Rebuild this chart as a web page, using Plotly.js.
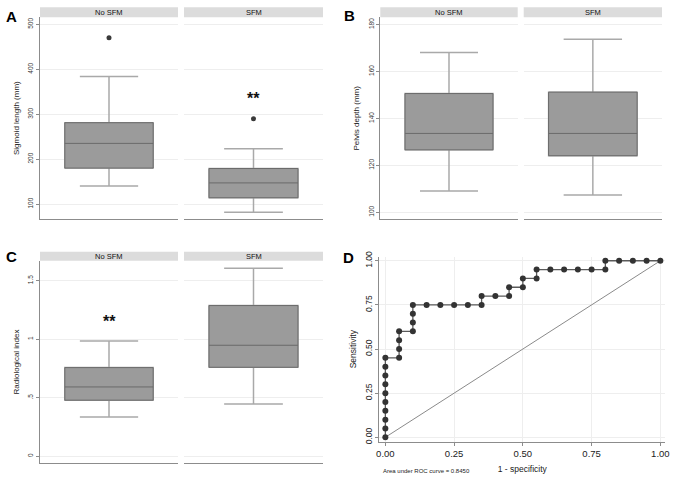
<!DOCTYPE html>
<html>
<head>
<meta charset="utf-8">
<script src="https://cdn.plot.ly/plotly-3.0.1.min.js"></script>
<style>html,body{margin:0;padding:0;background:#fff;}#chart{width:676px;height:481px;}</style>
</head>
<body>
<div id="chart"></div>
<script>
// ---------- data ----------
const groups = ['No SFM', 'SFM'];

// Panel A: Sigmoid length (mm)
const sigLower = [140, 82];
const sigQ1    = [180, 114];
const sigMed   = [235, 147];
const sigQ3    = [281, 179];
const sigUpper = [384, 223];
const sigOutliers = [[470], [290]];

// Panel B: Pelvis depth (mm)
const pelLower = [109.1, 107.4];
const pelQ1    = [126.6, 124.1];
const pelMed   = [133.6, 133.6];
const pelQ3    = [150.6, 151.2];
const pelUpper = [168.1, 173.7];

// Panel C: Radiological index
const radLower = [0.336, 0.447];
const radQ1    = [0.479, 0.760];
const radMed   = [0.592, 0.948];
const radQ3    = [0.757, 1.287];
const radUpper = [0.985, 1.606];

// Panel D: ROC curve
const rocFpr = [0,0,0,0,0,0,0,0,0,0,
  0.05,0.05,0.05,0.05,0.10,0.10,0.10,0.10,0.15,0.20,0.25,0.30,0.35,0.35,0.40,0.45,0.45,0.50,0.50,0.55,0.55,
  0.60,0.65,0.70,0.75,0.80,0.80,0.85,0.90,0.95,1.00];
const rocTpr = [0,0.05,0.10,0.15,0.20,0.25,0.30,0.35,0.40,0.45,
  0.45,0.50,0.55,0.60,0.60,0.65,0.70,0.75,0.75,0.75,0.75,0.75,0.75,0.80,0.80,0.80,0.85,0.85,0.90,0.90,0.95,
  0.95,0.95,0.95,0.95,0.95,1.00,1.00,1.00,1.00,1.00];
const diagX = [0, 1];
const diagY = [0, 1];
const aucText = 'Area under ROC curve = 0.8450';

// ---------- layout helpers ----------
const W = 676, H = 481;
const fx = p => p / W;
const fy = p => 1 - p / H;

const FONT = 'Liberation Sans, Arial, sans-serif';
const boxFill = '#9b9b9b', boxLine = '#6a6a6a', whiskerCol = '#a9a9a9';
const gridCol = '#eeeeee', axisCol = '#8c8c8c';

const traces = [];
function addBox(xa, ya, i, lo, q1, med, q3, up) {
  // whiskers (light grey)
  traces.push({type:'box', xaxis:xa, yaxis:ya, x:[0], q1:[q1[i]], median:[med[i]], q3:[q3[i]],
    lowerfence:[lo[i]], upperfence:[up[i]], width:0.64, whiskerwidth:0.66,
    fillcolor:boxFill, line:{color:whiskerCol, width:1.5}, boxpoints:false, hoverinfo:'skip', showlegend:false});
  // box body (darker outline)
  traces.push({type:'box', xaxis:xa, yaxis:ya, x:[0], q1:[q1[i]], median:[med[i]], q3:[q3[i]],
    lowerfence:[q1[i]], upperfence:[q3[i]], width:0.64, whiskerwidth:0,
    fillcolor:boxFill, line:{color:boxLine, width:1}, boxpoints:false, hoverinfo:'skip', showlegend:false});
}

// Panel A
addBox('x','y',0,sigLower,sigQ1,sigMed,sigQ3,sigUpper);
addBox('x2','y',1,sigLower,sigQ1,sigMed,sigQ3,sigUpper);
traces.push({type:'scatter', mode:'markers', xaxis:'x', yaxis:'y', x:sigOutliers[0].map(()=>0), y:sigOutliers[0],
  marker:{color:'#3a3a3a', size:5}, showlegend:false, hoverinfo:'skip'});
traces.push({type:'scatter', mode:'markers', xaxis:'x2', yaxis:'y', x:sigOutliers[1].map(()=>0), y:sigOutliers[1],
  marker:{color:'#3a3a3a', size:5}, showlegend:false, hoverinfo:'skip'});
// Panel B
addBox('x3','y2',0,pelLower,pelQ1,pelMed,pelQ3,pelUpper);
addBox('x4','y2',1,pelLower,pelQ1,pelMed,pelQ3,pelUpper);
// Panel C
addBox('x5','y3',0,radLower,radQ1,radMed,radQ3,radUpper);
addBox('x6','y3',1,radLower,radQ1,radMed,radQ3,radUpper);
// Panel D
traces.push({type:'scatter', mode:'lines', xaxis:'x7', yaxis:'y4', x:diagX, y:diagY,
  line:{color:'#8a8a8a', width:1}, showlegend:false, hoverinfo:'skip'});
traces.push({type:'scatter', mode:'lines+markers', xaxis:'x7', yaxis:'y4', x:rocFpr, y:rocTpr,
  line:{color:'#5a5a5a', width:1.3}, marker:{color:'#333333', size:6}, showlegend:false, hoverinfo:'skip'});

function facetX(x0, x1, anchor) {
  return {domain:[fx(x0), fx(x1)], anchor:anchor, range:[-0.5,0.5], showgrid:false, zeroline:false,
    showticklabels:false, ticks:'', showline:true, linecolor:axisCol, linewidth:1, fixedrange:true};
}
function boxY(top, bot, anchor, range, tickvals, ticktext, title) {
  return {domain:[fy(bot), fy(top)], anchor:anchor, range:range, tickvals:tickvals, ticktext:ticktext,
    tickangle:-90, tickfont:{family:FONT, size:6.5, color:'#333'}, ticks:'outside', ticklen:3, tickcolor:axisCol,
    showline:true, linecolor:axisCol, linewidth:1, showgrid:true, gridcolor:gridCol, gridwidth:1, zeroline:false,
    title:{text:title, font:{family:FONT, size:8, color:'#222'}, standoff:6}, fixedrange:true};
}

const layout = {
  width: W, height: H, margin:{l:0,r:0,t:0,b:0}, paper_bgcolor:'#fff', plot_bgcolor:'#fff',
  showlegend:false, font:{family:FONT},
  xaxis:  facetX(40, 178, 'y'),
  xaxis2: facetX(184, 323, 'y'),
  xaxis3: facetX(380.3, 517.7, 'y2'),
  xaxis4: facetX(523.7, 662, 'y2'),
  xaxis5: facetX(40, 178, 'y3'),
  xaxis6: facetX(184, 323, 'y3'),
  yaxis:  boxY(17.3, 219, 'x', [66.7, 515.6], [100,200,300,400,500], ['100','200','300','400','500'], 'Sigmoid length (mm)'),
  yaxis2: boxY(17.3, 219.3, 'x3', [97, 183.1], [100,120,140,160,180], ['100','120','140','160','180'], 'Pelvis depth (mm)'),
  yaxis3: boxY(260.7, 463.3, 'x5', [-0.06, 1.67], [0,0.5,1,1.5], ['0','.5','1','1.5'], 'Radiological index'),
  xaxis7: {domain:[fx(379.3), fx(665.3)], anchor:'y4', range:[-0.022, 1.018], tickvals:[0,0.25,0.5,0.75,1],
    tickformat:'.2f', tickfont:{family:FONT, size:9.5, color:'#222'}, ticks:'outside', ticklen:3, tickcolor:axisCol,
    showline:true, linecolor:axisCol, linewidth:1, showgrid:true, gridcolor:gridCol, zeroline:false,
    title:{text:'1 - specificity', font:{family:FONT, size:8.5, color:'#222'}, standoff:7}, fixedrange:true},
  yaxis4: {domain:[fy(441.7), fy(256.7)], anchor:'x7', range:[-0.025, 1.023], tickvals:[0,0.25,0.5,0.75,1],
    tickformat:'.2f', tickangle:-90, tickfont:{family:FONT, size:8.5, color:'#222'}, ticks:'outside', ticklen:3, tickcolor:axisCol,
    showline:true, linecolor:axisCol, linewidth:1, showgrid:true, gridcolor:gridCol, zeroline:false,
    title:{text:'Sensitivity', font:{family:FONT, size:8.5, color:'#222'}, standoff:5}, fixedrange:true},
  shapes: [], annotations: []
};

// strips
const strips = [
  [40,178,7.3,17.3,groups[0]], [184,323,7.3,17.3,groups[1]],
  [380.3,517.7,7.3,17.3,groups[0]], [523.7,662,7.3,17.3,groups[1]],
  [40,178,251.7,260.7,groups[0]], [184,323,251.7,260.7,groups[1]]
];
strips.forEach(s => {
  layout.shapes.push({type:'rect', xref:'paper', yref:'paper', x0:fx(s[0]), x1:fx(s[1]), y0:fy(s[3]), y1:fy(s[2]),
    fillcolor:'#dcdcdc', line:{width:0}, layer:'above'});
  layout.annotations.push({xref:'paper', yref:'paper', x:fx((s[0]+s[1])/2), y:fy((s[2]+s[3])/2), text:s[4],
    showarrow:false, xanchor:'center', yanchor:'middle', font:{family:FONT, size:7.5, color:'#111'}});
});

// panel letters
[['A',4,16],['B',342,15],['C',4,256.7],['D',341,257.3]].forEach(p => {
  layout.annotations.push({xref:'paper', yref:'paper', x:fx(p[1]), y:fy(p[2]), text:'<b>'+p[0]+'</b>',
    showarrow:false, xanchor:'left', yanchor:'middle', font:{family:FONT, size:15, color:'#000'}});
});

// significance stars
layout.annotations.push({xref:'x2', yref:'y', x:0, y:334, text:'<b>**</b>', showarrow:false,
  font:{family:FONT, size:16, color:'#111'}, yanchor:'middle'});
layout.annotations.push({xref:'x5', yref:'y3', x:0, y:1.15, text:'<b>**</b>', showarrow:false,
  font:{family:FONT, size:16, color:'#111'}, yanchor:'middle'});

// AUC note
layout.annotations.push({xref:'paper', yref:'paper', x:fx(381), y:fy(471), text:aucText, showarrow:false,
  xanchor:'left', yanchor:'middle', font:{family:FONT, size:6, color:'#222'}});

Plotly.newPlot('chart', traces, layout, {staticPlot:true, displayModeBar:false});
</script>
</body>
</html>
